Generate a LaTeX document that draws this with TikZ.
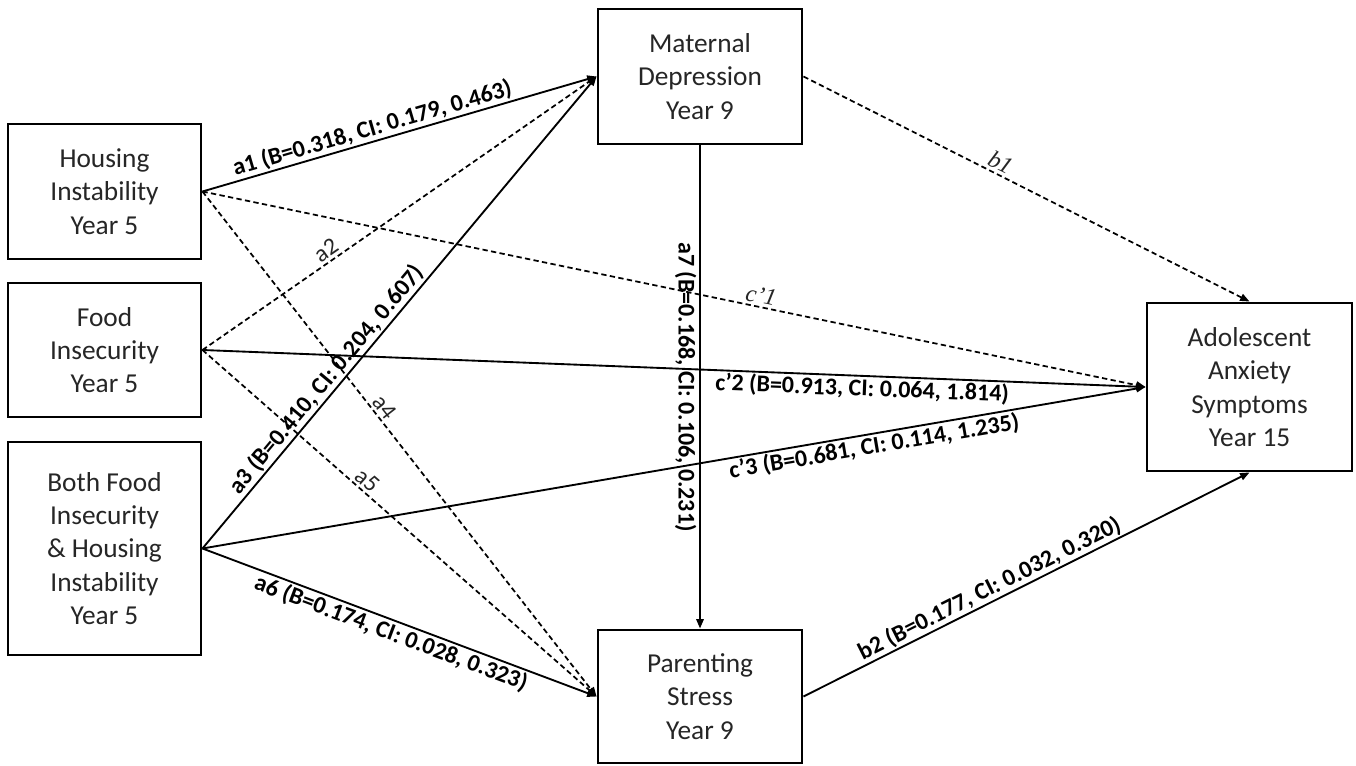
\documentclass[tikz,border=0pt]{standalone}
\usepackage{fontspec}
\setmainfont{Carlito}
\newfontfamily\serifital{Liberation Serif}
\usetikzlibrary{arrows.meta}
\begin{document}
\begin{tikzpicture}[x=0.75pt,y=-0.75pt,
  box/.style={draw, line width=2.2pt, align=center, inner sep=0pt,
    text=black!85, font=\fontsize{20.5}{25}\selectfont},
  solidarrow/.style={line width=1.4pt, -{Triangle[length=7pt,width=5.5pt]}},
  dasharrow/.style={line width=1.3pt, dash pattern=on 4pt off 2.5pt,
    -{Triangle[length=7pt,width=5.5pt]}},
  blab/.style={font=\bfseries\fontsize{18}{20}\selectfont, sloped, inner sep=1pt},
  rlab/.style={font=\fontsize{18}{20}\selectfont, text=black!85, sloped, inner sep=2pt},
  ilab/.style={font=\serifital\itshape\fontsize{18}{20}\selectfont, text=black!85, sloped, inner sep=2pt}]
\fill[white] (0,0) rectangle (1356,766);
\useasboundingbox (0,0) rectangle (1356,766);

\node[box, minimum width=144.75pt, minimum height=101.25pt] (H) at (104.5,191.5) {Housing\\Instability\\Year 5};
\node[box, minimum width=144.75pt, minimum height=100.5pt] (F) at (104.5,350) {Food\\Insecurity\\Year 5};
\node[box, minimum width=144.75pt, minimum height=159.75pt] (B) at (104.5,548.5) {Both Food\\Insecurity\\\& Housing\\Instability\\Year 5};
\node[box, minimum width=153pt, minimum height=101.25pt] (M) at (700,76.5) {Maternal\\Depression\\Year 9};
\node[box, minimum width=153pt, minimum height=99.75pt] (P) at (700,696.5) {Parenting\\Stress\\Year 9};
\node[box, minimum width=153.75pt, minimum height=126pt] (A) at (1249.5,387) {Adolescent\\Anxiety\\Symptoms\\Year 15};

% to Maternal Depression
\draw[solidarrow] (H.east) -- node[blab, above, pos=0.44] {a1 (B=0.318, CI: 0.179, 0.463)} (M.west);
\draw[dasharrow] (F.east) -- node[rlab, above, pos=0.33] {a2} (M.west);
\draw[solidarrow] (B.east) -- node[blab, above, pos=0.34] {a3 (B=0.410, CI: 0.204, 0.607)} (M.west);

% to Parenting Stress
\draw[dasharrow] (H.east) -- node[rlab, above, pos=0.44] {a4} (P.west);
\draw[dasharrow] (F.east) -- node[rlab, above, pos=0.40] {a5} (P.west);
\draw[solidarrow] (B.east) -- node[blab, below, pos=0.49] {a6 (B=0.174, CI: 0.028, 0.323)} (P.west);

% mediator to mediator
\draw[solidarrow] (M.south) -- node[font=\bfseries\fontsize{18}{20}\selectfont, rotate=-90, anchor=north, inner sep=2pt, midway] {a7 (B=0.168, CI: 0.106, 0.231)} (P.north);

% to Adolescent Anxiety
\draw[dasharrow] (M.east) -- node[ilab, above, pos=0.43] {b1} (A.north);
\draw[dasharrow] (H.east) -- node[ilab, above, pos=0.59] {c’1} (A.west);
\draw[solidarrow] (F.east) -- node[blab, below, pos=0.70] {c’2 (B=0.913, CI: 0.064, 1.814)} (A.west);
\draw[solidarrow] (B.east) -- node[blab, below, pos=0.71] {c’3 (B=0.681, CI: 0.114, 1.235)} (A.west);
\draw[solidarrow] (P.east) -- node[blab, above, pos=0.43] {b2 (B=0.177, CI: 0.032, 0.320)} (A.south);
\end{tikzpicture}
\end{document}
